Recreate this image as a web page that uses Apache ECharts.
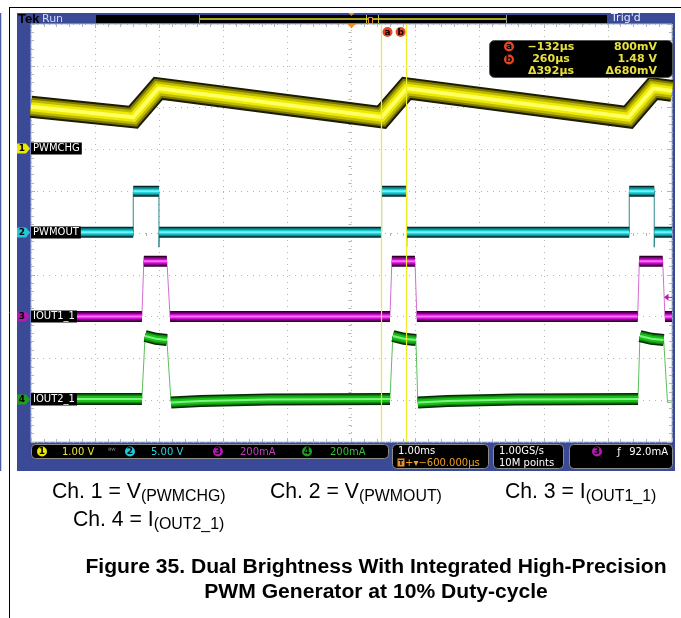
<!DOCTYPE html>
<html>
<head>
<meta charset="utf-8">
<script src="https://cdn.jsdelivr.net/npm/echarts@6/dist/echarts.min.js"></script>
<style>
html, body { margin: 0; padding: 0; background: #fff; }
#scope { width: 681px; height: 618px; }
</style>
</head>
<body>
<div id="scope"></div>
<script>
// screen: 10 x 10 divisions, time in ms relative to the trigger (1 ms/div)
var timeMin = -5.6
var timeDiv = 1
var horizontalDelay = -0.6
// channel settings: units per division, ground position in divisions above centre
var chScale = [1, 5, 200, 200]
var chPosition = [2, 0, -2, -4]
var chNames = ['PWMCHG', 'PWMOUT', 'IOUT1_1', 'IOUT2_1']
var chScaleText = ['1.00 V', '5.00 V', '200mA', '200mA']

// ch1 PWMCHG (V)
var ch1Time = [-5.6, -4.005, -3.615, -0.13, 0.26, 3.718, 4.108, 4.4]
var ch1Volt = [1.02, 0.77, 1.46, 0.77, 1.46, 0.77, 1.46, 1.40]
// ch2 PWMOUT (V)
var ch2Time = [-5.6, -4.005, -4.005, -3.604, -3.604, -3.6, -0.13, -0.13, 0.26, 0.26, 0.264, 3.733, 3.733, 4.123, 4.123, 4.127, 4.4]
var ch2Volt = [0.1, 0.1, 5.0, 5.0, -1.7, 0.1, 0.1, 5.0, 5.0, -1.7, 0.1, 0.1, 5.0, 5.0, -1.7, 0.1, 0.1]
// ch3 IOUT1_1 (mA)
var ch3Time = [-5.6, -3.87, -3.84, -3.48, -3.43, 0.0, 0.03, 0.39, 0.42, 3.865, 3.89, 4.255, 4.29, 4.4]
var ch3Amp = [0, 0, 265, 265, 0, 0, 265, 265, 0, 0, 265, 265, 0, 0]
// ch4 IOUT2_1 (mA)
var ch4Time = [-5.6, -3.87, -3.82, -3.65, -3.48, -3.415, -2.95, -1.9, 0.0, 0.045, 0.22, 0.405, 0.435, 0.9, 1.96, 3.87, 3.9, 4.08, 4.27, 4.33, 4.4]
var ch4Amp = [6, 6, 307, 294, 288, -11, -4, 3, 6, 307, 294, 288, -11, -4, 3, 6, 307, 294, 288, -11, -9]

// cursors a / b on ch1
var cursorTime = [-0.132, 0.26]
var cursorVolt = [0.8, 1.48]
var triggerLevel = 92 // mA, ch3

var gridBox = { left: 31, top: 24, width: 641, height: 418 }
var gridColor = '#b4b4b4'
var chColor = ['#e8e800', '#22c8d8', '#b01cb0', '#1ca01c']
var chText = ['#e8e840', '#30d0e0', '#c63cc6', '#36c036']
var edgeColor = ['#c8c400', '#2a8a8a', '#d070d0', '#5cc05c']
var bandLayers = [
  [[22, '#1c1c00'], [18, '#7c7800'], [14, '#bdb800'], [9, '#eeea00'], [4, '#ffff66']],
  [[11, '#062828'], [8, '#0a8a90'], [5, '#19c8d0'], [2, '#70f4fa']],
  [[11, '#2a0028'], [8, '#900090'], [5, '#d010d0'], [2, '#ff70ff']],
  [[12, '#062806'], [9, '#0c8a0c'], [6, '#18c018'], [2, '#80f080']]
]

var waves = [[ch1Time, ch1Volt], [ch2Time, ch2Volt], [ch3Time, ch3Amp], [ch4Time, ch4Amp]]

// thick band only on the slow parts, fast edges stay as thin trace
function bandData (ts, vs) {
  var out = []
  var open = false
  for (var i = 0; i < ts.length - 1; i++) {
    if (ts[i + 1] - ts[i] >= 0.08) {
      if (!open) out.push([ts[i], vs[i]])
      out.push([ts[i + 1], vs[i + 1]])
      open = true
    } else if (open) {
      out.push([ts[i], null])
      open = false
    }
  }
  return out
}

function lineSeries (data, ch, width, color) {
  return {
    type: 'line',
    xAxisIndex: 0,
    yAxisIndex: 3 + ch,
    data: data,
    showSymbol: false,
    symbol: 'none',
    silent: true,
    connectNulls: false,
    animation: false,
    lineStyle: { width: width, color: color, cap: 'butt', join: 'miter' }
  }
}

var series = []
waves.forEach(function (w, c) {
  var pts = w[0].map(function (t, i) { return [t, w[1][i]] })
  series.push(lineSeries(pts, c, 1, edgeColor[c]))
  var band = bandData(w[0], w[1])
  bandLayers[c].forEach(function (l) { series.push(lineSeries(band, c, l[0], l[1])) })
})
series.push({
  type: 'line',
  xAxisIndex: 0,
  yAxisIndex: 3,
  data: [[timeMin, null]],
  silent: true,
  animation: false,
  z: 5,
  markLine: {
    silent: true,
    animation: false,
    symbol: ['none', 'none'],
    label: { show: false },
    lineStyle: { color: '#ecec28', width: 1.2, type: 'solid' },
    data: cursorTime.map(function (t) { return { xAxis: t } })
  }
})

var tick = { show: true, inside: true, length: 4, lineStyle: { color: gridColor } }
var minor = { show: true, splitNumber: 5, length: 3, lineStyle: { color: gridColor } }
function divAxis (pos, onZero, zeroIdx, split) {
  return {
    type: 'value', min: -5, max: 5, interval: 1, position: pos,
    axisLine: { show: false, onZero: onZero, onZeroAxisIndex: zeroIdx },
    axisLabel: { show: false },
    axisTick: onZero ? { show: false } : tick,
    minorTick: minor,
    splitLine: { show: !!split, lineStyle: { color: gridColor, type: [1, 5] } }
  }
}
var yAxes = [divAxis('left', false, null, true), divAxis('right', false), divAxis('left', true, 1)]
chScale.forEach(function (s, c) {
  yAxes.push({
    type: 'value', show: false,
    min: (-5 - chPosition[c]) * s, max: (5 - chPosition[c]) * s,
    axisLine: { onZero: false }
  })
})

var option = {
  backgroundColor: '#fff',
  animation: false,
  grid: {
    left: gridBox.left, top: gridBox.top, width: gridBox.width, height: gridBox.height,
    containLabel: false, outerBoundsMode: 'none',
    show: true, backgroundColor: '#fff', borderColor: '#a9bde6', borderWidth: 1
  },
  xAxis: [
    {
      type: 'value', min: timeMin, max: timeMin + 10 * timeDiv, interval: timeDiv, position: 'bottom',
      axisLine: { show: false, onZero: false }, axisLabel: { show: false },
      axisTick: tick, minorTick: minor,
      splitLine: { show: true, lineStyle: { color: gridColor, type: [1, 5] } }
    },
    divAxis('top', false),
    divAxis('bottom', true, 0)
  ],
  yAxis: yAxes,
  series: series
}

var chart = echarts.init(document.getElementById('scope'))
chart.setOption(option)

var px = function (t) { return chart.convertToPixel({ xAxisIndex: 0 }, t) }
var py = function (c, v) { return chart.convertToPixel({ yAxisIndex: 3 + c }, v) }

var ctx = document.createElement('canvas').getContext('2d')
function textWidth (str, font) { ctx.font = font; return ctx.measureText(str).width }
function hasFont (name) {
  var probe = 'abcdefghijklmnopqrstuvwxyzW'
  return textWidth(probe, '20px monospace') !== textWidth(probe, '20px "' + name + '", monospace')
}

var g = []
function txt (x, y, str, font, color, align, z) {
  g.push({ type: 'text', x: x, y: y, z: z || 100, silent: true,
    style: { text: str, font: font, fill: color, align: align || 'left', verticalAlign: 'middle' } })
}
function rect (x, y, w, h, fill, stroke, r, z) {
  g.push({ type: 'rect', z: z || 100, silent: true, shape: { x: x, y: y, width: w, height: h, r: r || 0 },
    style: { fill: fill, stroke: stroke || null, lineWidth: 1 } })
}
function line (x1, y1, x2, y2, color, w, z) {
  g.push({ type: 'line', z: z || 100, silent: true, shape: { x1: x1, y1: y1, x2: x2, y2: y2 },
    style: { stroke: color, lineWidth: w || 1 } })
}
function dot (cx, cy, r, fill, label, z) {
  g.push({ type: 'circle', z: z || 100, silent: true, shape: { cx: cx, cy: cy, r: r }, style: { fill: fill } })
  if (label) txt(cx, cy + 0.5, label, 'bold 9px "DejaVu Sans"', '#000', 'center', (z || 100) + 1)
}

var uiFont = '10px "DejaVu Sans"'
var right = gridBox.left + gridBox.width

// page lines and scope frame
line(9.5, 7, 9.5, 618, '#000', 1, -20)
line(9, 7.5, 681, 7.5, '#000', 1, -20)
line(0.5, 13, 0.5, 471, '#4a5aa8', 1.5, -20)
rect(17, 13, 658, 458, '#3b4a97', null, 0, -10)

// header
txt(18, 19, 'Tek', 'bold 13px "Liberation Sans"', '#000')
txt(42, 19, 'Run', '11px "DejaVu Sans"', '#d0d8ff')
rect(96, 15, 511, 8, '#000')
line(199, 19, 506, 19, '#a8a820', 2)
line(199.5, 15, 199.5, 23, '#999')
line(506.5, 15, 506.5, 23, '#999')
line(366.5, 15, 366.5, 23, '#c8c830')
line(378.5, 15, 378.5, 23, '#c8c830')
rect(368.5, 17.5, 4, 6, '#000', '#f09020')
txt(611, 18.5, "Trig'd", '11px "DejaVu Sans"', '#e4e8ff')
var xc = px(horizontalDelay)
g.push({ type: 'polygon', z: 100, silent: true, shape: { points: [[xc - 3, 13], [xc + 3, 13], [xc, 16]] }, style: { fill: '#f09020' } })
g.push({ type: 'polygon', z: 100, silent: true, shape: { points: [[xc - 4, 24], [xc + 4, 24], [xc, 28.5]] }, style: { fill: '#f09020' } })

// cursor tags and readout
dot(px(cursorTime[0]) + 6, 32, 5, '#e8461e', 'a')
dot(px(cursorTime[1]) - 6, 32, 5, '#e8461e', 'b')
function fmtTime (ms) { var us = Math.round(ms * 1000); return (us < 0 ? '\u2212' : '') + Math.abs(us) + 'µs' }
function fmtVolt (v) { return Math.abs(v) < 1 ? Math.round(v * 1000) + 'mV' : v.toFixed(2) + ' V' }
rect(489.5, 40.5, 183, 37, '#000', '#555', 5)
var roFont = 'bold 11px "DejaVu Sans"'
dot(509, 46.5, 5, '#e8461e', 'a', 101)
dot(509, 59.5, 5, '#e8461e', 'b', 101)
txt(551, 47, fmtTime(cursorTime[0]), roFont, '#e8e040', 'center')
txt(551, 59.5, fmtTime(cursorTime[1]), roFont, '#e8e040', 'center')
txt(551, 71.5, '\u0394' + fmtTime(cursorTime[1] - cursorTime[0]), roFont, '#e8e040', 'center')
txt(657, 47, fmtVolt(cursorVolt[0]), roFont, '#e8e040', 'right')
txt(657, 59.5, fmtVolt(cursorVolt[1]), roFont, '#e8e040', 'right')
txt(657, 71.5, '\u0394' + fmtVolt(cursorVolt[1] - cursorVolt[0]), roFont, '#e8e040', 'right')

// channel ground markers and labels
chNames.forEach(function (name, c) {
  var y = Math.round(py(c, 0)) - 0.5
  g.push({ type: 'polygon', z: 110, silent: true,
    shape: { points: [[17, y - 5], [26, y - 5], [30, y], [26, y + 5], [17, y + 5]] },
    style: { fill: chColor[c] } })
  txt(22, y + 0.5, String(c + 1), 'bold 9px "DejaVu Sans"', '#000', 'center', 111)
  var w = textWidth(name, uiFont)
  rect(31, y - 6, w + 4, 12, '#000', null, 0, 110)
  txt(33, y - 0.5, name, uiFont, '#fff', 'left', 111)
})

// trigger level arrow (ch3)
var yt = py(2, triggerLevel)
g.push({ type: 'polygon', z: 100, silent: true, shape: { points: [[664, yt], [668.5, yt - 3.5], [668.5, yt + 3.5]] }, style: { fill: chColor[2] } })
line(668, yt, right, yt, chColor[2], 1)

// bottom status bar
rect(31.5, 444.5, 357, 14, '#000', '#8c8c8c', 4)
var chDotX = [42, 130, 218, 307]
var chTextX = [62, 151, 240, 330]
chDotX.forEach(function (x, c) {
  dot(x, 451.5, 5, chColor[c], String(c + 1), 101)
  txt(chTextX[c], 452, chScaleText[c], uiFont, chText[c], 'left', 101)
})
txt(112, 451, '\u1D2E\u1D42', '7px "DejaVu Sans"', '#9a9a9a', 'center', 101)
rect(392.5, 444.5, 96, 24, '#000', '#8c8c8c', 4)
txt(398, 451, (timeDiv).toFixed(2) + 'ms', uiFont, '#fff', 'left', 101)
rect(397.5, 458.5, 7, 8, '#f09020', null, 0, 101)
txt(401, 463, 'T', 'bold 7px "DejaVu Sans"', '#000', 'center', 102)
txt(405, 463, '+\u25BE' + '\u2212' + Math.abs(horizontalDelay * 1000).toFixed(3) + 'µs', uiFont, '#f0a020', 'left', 101)
rect(493.5, 444.5, 70, 24, '#000', '#8c8c8c', 4)
txt(499, 451, '1.00GS/s', uiFont, '#fff', 'left', 101)
txt(499, 463, '10M points', uiFont, '#fff', 'left', 101)
rect(569.5, 444.5, 103, 24, '#000', '#8c8c8c', 4)
dot(597, 451.5, 5, chColor[2], '3', 101)
txt(619, 452, '\u0192', uiFont, '#fff', 'center', 101)
txt(668, 452, triggerLevel.toFixed(1) + 'mA', uiFont, '#fff', 'right', 101)

// captions (condensed face if present, sized to the printed widths)
var capFamily = hasFont('Liberation Sans Narrow') ? '"Liberation Sans Narrow"' : '"Liberation Sans"'
var capW = textWidth('Ch. 1 = V', '20px ' + capFamily) + textWidth('(PWMCHG)', '15px ' + capFamily)
var capSize = 20 * 174 / capW
var mainFont = capSize.toFixed(1) + 'px ' + capFamily
var subFont = (capSize * 0.75).toFixed(1) + 'px ' + capFamily
function chCaption (x, y, head, sub) {
  txt(x, y, head, mainFont, '#000')
  txt(x + textWidth(head, mainFont), y + 5, sub, subFont, '#000')
}
chCaption(52, 492, 'Ch. 1 = V', '(PWMCHG)')
chCaption(270, 492, 'Ch. 2 = V', '(PWMOUT)')
chCaption(505, 492, 'Ch. 3 = I', '(OUT1_1)')
chCaption(73, 520, 'Ch. 4 = I', '(OUT2_1)')
var title1 = 'Figure 35. Dual Brightness With Integrated High-Precision'
var titleSize = 20 * 581 / textWidth(title1, 'bold 20px ' + capFamily)
var titleFont = 'bold ' + titleSize.toFixed(1) + 'px ' + capFamily
txt(376, 567, title1, titleFont, '#000', 'center')
txt(376, 592, 'PWM Generator at 10% Duty-cycle', titleFont, '#000', 'center')

chart.setOption({ graphic: { elements: g } })
</script>
</body>
</html>
